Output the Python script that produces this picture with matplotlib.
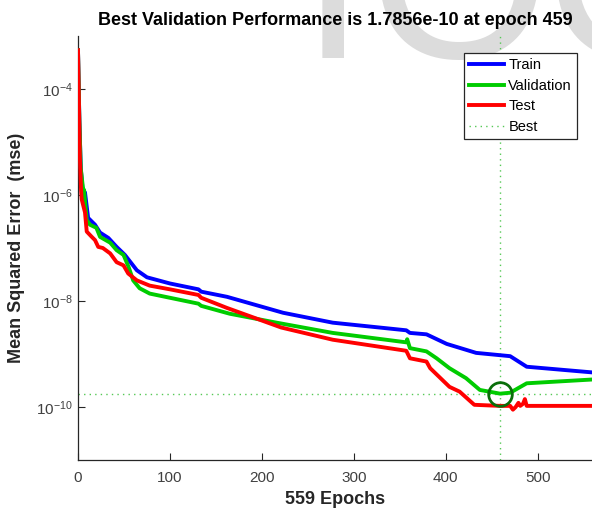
import matplotlib

matplotlib.use("Agg")
import matplotlib.pyplot as plt

plt.rcParams["font.family"] = ["Liberation Sans", "DejaVu Sans"]
plt.rcParams["mathtext.fontset"] = "custom"
plt.rcParams["mathtext.rm"] = "Liberation Sans"
plt.rcParams["mathtext.it"] = "Liberation Sans:italic"
plt.rcParams["mathtext.bf"] = "Liberation Sans:bold"

# training record (epoch, mse)
train_epochs = [0, 1.5, 3, 5, 7.6, 11, 18.5, 24, 33, 42, 51, 64, 75, 100, 131, 134,
                162, 223, 277, 357, 361, 379, 401, 433, 470, 488, 559]
train_mse = [5.4e-4, 2.5e-5, 3.2e-6, 1.26e-6, 1.12e-6, 3.7e-7, 2.75e-7, 1.95e-7, 1.55e-7,
             1.05e-7, 7.4e-8, 3.8e-8, 2.8e-8, 2.14e-8, 1.66e-8, 1.5e-8,
             1.2e-8, 6.0e-9, 3.9e-9, 2.8e-9, 2.5e-9, 2.35e-9, 1.55e-9, 1.05e-9, 9.1e-10,
             5.75e-10, 4.5e-10]

val_epochs = [0, 1.5, 3, 5.8, 6.5, 9.5, 13, 20, 24, 35, 42, 49.5, 55, 60, 67, 78, 100,
              131, 134, 165, 216, 277, 357, 358, 361, 379, 390, 404, 422, 437, 459, 470,
              488, 559]
val_mse = [5.4e-4, 2.5e-5, 3.2e-6, 1.17e-6, 1.26e-6, 3.4e-7, 2.75e-7, 2.4e-7, 1.62e-7,
           1.26e-7, 9.1e-8, 7.4e-8, 4.4e-8, 2.45e-8, 1.74e-8, 1.38e-8, 1.15e-8,
           8.9e-9, 8.1e-9, 5.75e-9, 3.9e-9, 2.5e-9, 1.66e-9, 1.9e-9, 1.29e-9, 1.12e-9,
           8.3e-10, 5.4e-10, 3.5e-10, 2.1e-10, 1.7856e-10, 1.86e-10, 2.8e-10, 3.3e-10]

test_epochs = [0, 1.4, 2, 3.3, 4, 7.6, 9.5, 15, 18.5, 22, 27, 35, 42, 49.5, 54.6, 64, 78,
               100, 131, 134, 162, 195, 221, 277, 357, 361, 379, 383, 404, 415, 431, 459,
               470, 473, 476, 479, 481, 484, 486, 488, 559]
test_mse = [5.4e-4, 2.5e-5, 5.5e-6, 1.26e-6, 8.3e-7, 4.7e-7, 2.04e-7, 1.62e-7, 1.41e-7,
            1.05e-7, 1.0e-7, 7.9e-8, 5.4e-8, 4.7e-8, 3.3e-8, 2.45e-8, 1.95e-8,
            1.66e-8, 1.3e-8, 1.15e-8, 7.4e-9, 4.6e-9, 3.16e-9, 1.86e-9, 1.15e-9, 8.3e-10,
            7.2e-10, 5.4e-10, 2.4e-10, 1.95e-10, 1.1e-10, 1.05e-10,
            1.05e-10, 8.9e-11, 1.0e-10, 1.2e-10, 1.05e-10, 1.15e-10, 1.41e-10, 1.05e-10,
            1.05e-10]

best_epoch = 459
best_perf = 1.7856e-10
n_epochs = 559

y_ticks = [1e-10, 1e-8, 1e-6, 1e-4]
y_ticklabels = ["$10^{-10}$", "$10^{-8}$", "$10^{-6}$", "$10^{-4}$"]
x_ticks = [0, 100, 200, 300, 400, 500]

fig = plt.figure(figsize=(5.92, 5.13), dpi=100)

# faint watermark behind everything, only its lower edge shows
for letter, xc in (("I", 333), ("O", 459), ("C", 628)):
    fig.text(xc / 592, 1 - 58 / 513, letter, fontsize=167,
             color="#dcdcdc", ha="center", va="baseline", zorder=-5)

ax = fig.add_axes([78 / 592, 1 - 460 / 513, 1 - 78 / 592, (460 - 36) / 513])
ax.set_facecolor("none")

best_kw = dict(color="#55c855", lw=1.0, linestyle=(0, (1, 3)))
ax.plot([best_epoch, best_epoch], [1e-11, 1e-3], zorder=1, **best_kw)
ax.plot([0, n_epochs], [best_perf, best_perf], zorder=1, **best_kw)

ax.plot(train_epochs, train_mse, color="#0000ff", lw=2.8, label="Train", zorder=3)
ax.plot(val_epochs, val_mse, color="#00cc00", lw=2.8, label="Validation", zorder=3)
ax.plot(test_epochs, test_mse, color="#ff0000", lw=2.8, label="Test", zorder=3)
ax.plot([], [], label="Best", **best_kw)
ax.plot([best_epoch], [best_perf], "o", ms=17, mfc="none", mec="#0a6e0a", mew=2, zorder=4)

ax.set_yscale("log")
ax.set_xlim(0, n_epochs)
ax.set_ylim(1e-11, 1e-3)
ax.set_yticks(y_ticks)
ax.set_yticklabels(y_ticklabels)
ax.yaxis.set_minor_locator(matplotlib.ticker.NullLocator())
ax.set_xticks(x_ticks)

for side in ("top", "right"):
    ax.spines[side].set_visible(False)
for side in ("left", "bottom"):
    ax.spines[side].set_color("#262626")
    ax.spines[side].set_linewidth(0.9)
ax.tick_params(direction="in", length=5, width=0.8, color="#262626",
               labelcolor="#404040", labelsize=11)
ax.tick_params(axis="x", pad=8)

ax.set_title(f"Best Validation Performance is {best_perf:.4e} at epoch {best_epoch}",
             fontsize=13, fontweight="bold", pad=8)
ax.set_xlabel(f"{n_epochs} Epochs", fontsize=13, fontweight="bold", color="#262626")
ax.set_ylabel("Mean Squared Error  (mse)", fontsize=13, fontweight="bold", color="#262626",
              labelpad=8)

leg = ax.legend(loc="upper right", bbox_to_anchor=(0.971, 0.960), borderaxespad=0,
                fontsize=10.5, handlelength=2.4, handletextpad=0.3, labelspacing=0.45,
                fancybox=False, framealpha=1, edgecolor="#262626", borderpad=0.35)
leg.get_frame().set_linewidth(0.9)

fig.savefig("out.png", dpi=100)
